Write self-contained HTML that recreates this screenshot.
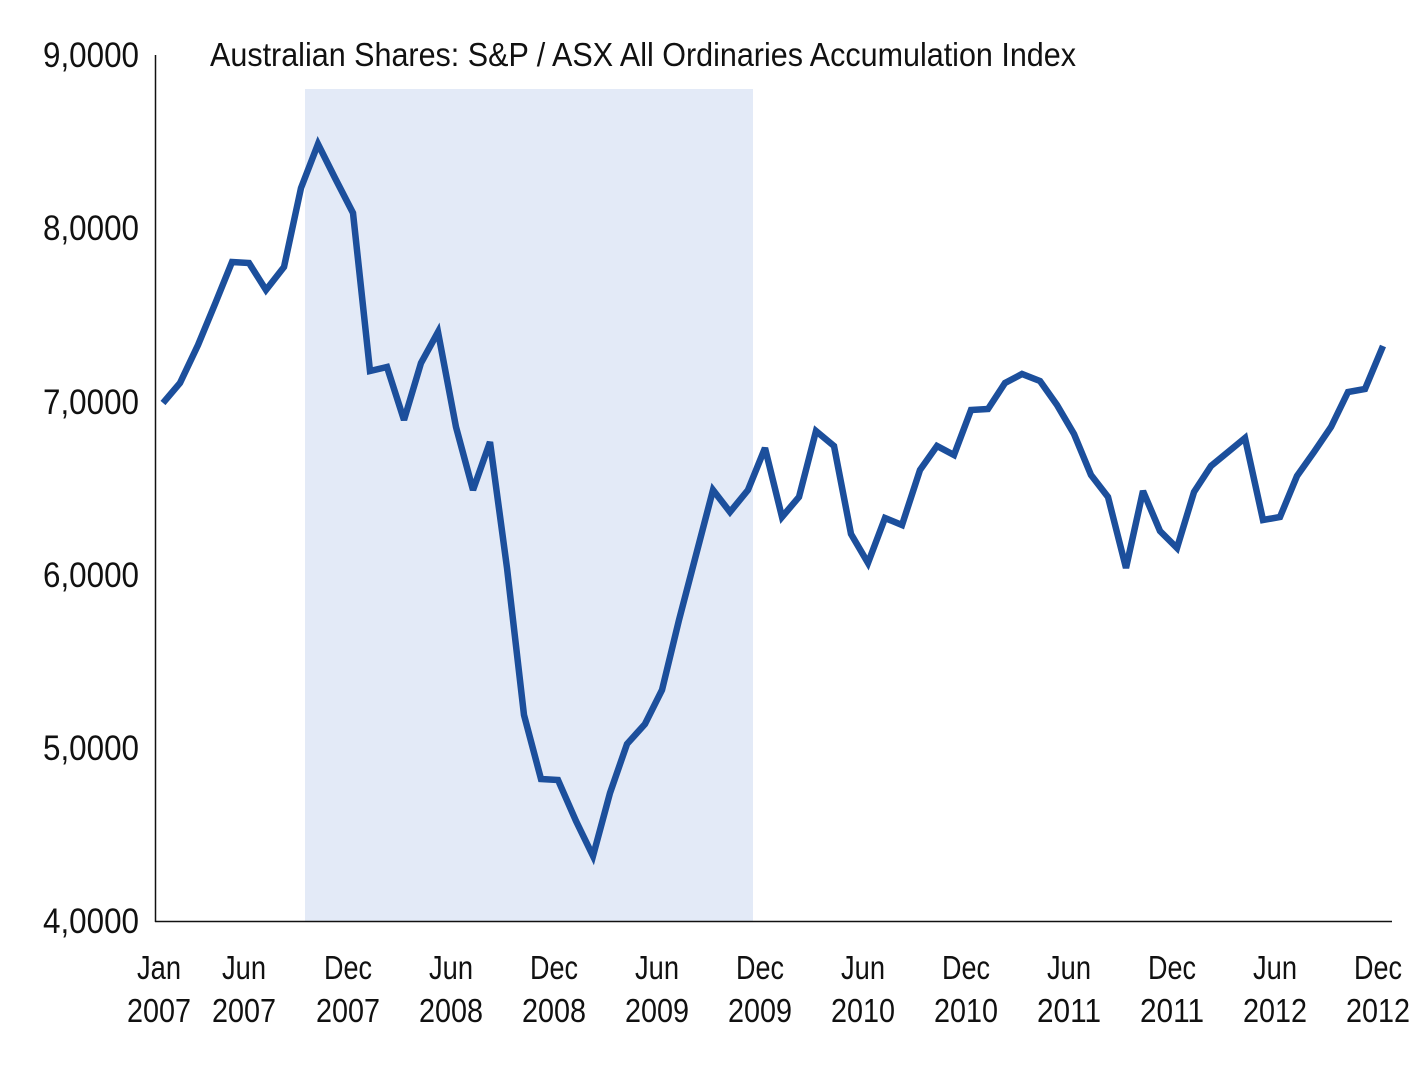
<!DOCTYPE html>
<html><head><meta charset="utf-8"><style>
html,body{margin:0;padding:0;background:#fff;}
svg{display:block;}
text{font-family:"Liberation Sans Narrow","Liberation Sans",sans-serif;fill:#111;}
</style></head><body>
<svg width="1424" height="1068" viewBox="0 0 1424 1068" xmlns="http://www.w3.org/2000/svg">
<rect x="0" y="0" width="1424" height="1068" fill="#fff"/>
<rect x="305" y="89" width="448" height="832" fill="#e3eaf7"/>
<line x1="155.5" y1="55" x2="155.5" y2="922" stroke="#111" stroke-width="1.5"/>
<line x1="155" y1="921.5" x2="1392" y2="921.5" stroke="#111" stroke-width="1.5"/>
<text x="210" y="66" font-size="33" textLength="866" lengthAdjust="spacingAndGlyphs">Australian Shares: S&amp;P / ASX All Ordinaries Accumulation Index</text>
<g font-size="35" text-anchor="end">
<text x="139" y="67" textLength="96" lengthAdjust="spacingAndGlyphs">9,0000</text>
<text x="139" y="240" textLength="96" lengthAdjust="spacingAndGlyphs">8,0000</text>
<text x="139" y="414" textLength="96" lengthAdjust="spacingAndGlyphs">7,0000</text>
<text x="139" y="587" textLength="96" lengthAdjust="spacingAndGlyphs">6,0000</text>
<text x="139" y="760" textLength="96" lengthAdjust="spacingAndGlyphs">5,0000</text>
<text x="139" y="933" textLength="96" lengthAdjust="spacingAndGlyphs">4,0000</text>
</g>
<g font-size="33" text-anchor="middle">
<text x="159" y="979" textLength="44" lengthAdjust="spacingAndGlyphs">Jan</text><text x="159" y="1022" textLength="64" lengthAdjust="spacingAndGlyphs">2007</text>
<text x="244" y="979" textLength="44" lengthAdjust="spacingAndGlyphs">Jun</text><text x="244" y="1022" textLength="64" lengthAdjust="spacingAndGlyphs">2007</text>
<text x="348" y="979" textLength="48" lengthAdjust="spacingAndGlyphs">Dec</text><text x="348" y="1022" textLength="64" lengthAdjust="spacingAndGlyphs">2007</text>
<text x="451" y="979" textLength="44" lengthAdjust="spacingAndGlyphs">Jun</text><text x="451" y="1022" textLength="64" lengthAdjust="spacingAndGlyphs">2008</text>
<text x="554" y="979" textLength="48" lengthAdjust="spacingAndGlyphs">Dec</text><text x="554" y="1022" textLength="64" lengthAdjust="spacingAndGlyphs">2008</text>
<text x="657" y="979" textLength="44" lengthAdjust="spacingAndGlyphs">Jun</text><text x="657" y="1022" textLength="64" lengthAdjust="spacingAndGlyphs">2009</text>
<text x="760" y="979" textLength="48" lengthAdjust="spacingAndGlyphs">Dec</text><text x="760" y="1022" textLength="64" lengthAdjust="spacingAndGlyphs">2009</text>
<text x="863" y="979" textLength="44" lengthAdjust="spacingAndGlyphs">Jun</text><text x="863" y="1022" textLength="64" lengthAdjust="spacingAndGlyphs">2010</text>
<text x="966" y="979" textLength="48" lengthAdjust="spacingAndGlyphs">Dec</text><text x="966" y="1022" textLength="64" lengthAdjust="spacingAndGlyphs">2010</text>
<text x="1069" y="979" textLength="44" lengthAdjust="spacingAndGlyphs">Jun</text><text x="1069" y="1022" textLength="64" lengthAdjust="spacingAndGlyphs">2011</text>
<text x="1172" y="979" textLength="48" lengthAdjust="spacingAndGlyphs">Dec</text><text x="1172" y="1022" textLength="64" lengthAdjust="spacingAndGlyphs">2011</text>
<text x="1275" y="979" textLength="44" lengthAdjust="spacingAndGlyphs">Jun</text><text x="1275" y="1022" textLength="64" lengthAdjust="spacingAndGlyphs">2012</text>
<text x="1378" y="979" textLength="48" lengthAdjust="spacingAndGlyphs">Dec</text><text x="1378" y="1022" textLength="64" lengthAdjust="spacingAndGlyphs">2012</text>
</g>
<polyline fill="none" stroke="#1c4f9c" stroke-width="6.5" stroke-linejoin="miter" stroke-miterlimit="3" points="163,403 180,383 198,345 215,304 232,262 249,263 266,290 284,267 301,188 318,144 335,178 353,213 370,371 387,367 404,420 421,363 438,332 456,427 473,490 490,442 507,568 524,715 541,779 558,780 576,821 593,856 610,793 627,744 645,724 662,690 679,620 696,555 713,490 730,512 748,490 765,448 782,517 799,497 816,431 834,446 851,534 868,563 885,518 902,525 920,470 937,446 954,455 971,410 988,409 1005,383 1022,374 1040,381 1057,405 1074,434 1091,475 1108,497 1126,568 1143,491 1160,531 1177,548 1194,492 1211,466 1228,452 1245,438 1263,520 1280,517 1297,476 1314,452 1331,427 1348,392 1365,389 1383,346"/>
</svg>
</body></html>
